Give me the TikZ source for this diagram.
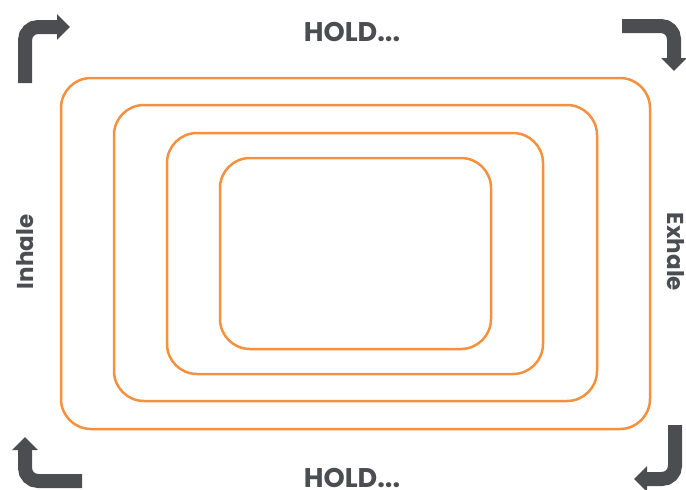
\documentclass[tikz,border=0pt]{standalone}
\usepackage{fontspec}
\setmainfont{Poppins}
\definecolor{breathorange}{RGB}{245, 145, 62}
\definecolor{darkgray}{RGB}{76, 77, 81}
\usetikzlibrary{arrows.meta}
\tikzset{
	ring/.style={draw=breathorange, line width=2.5pt, rounded corners=30pt},
	turn/.style={draw=darkgray, line width=14pt, rounded corners=13pt, -{Triangle[length=13pt, width=25pt]}},
	label/.style={text=darkgray, font=\bfseries\fontsize{27}{30}\selectfont, inner sep=0pt, text depth=0pt, anchor=base},
	sidelabel/.style={text=darkgray, font=\bfseries\fontsize{23}{27}\selectfont, inner sep=0pt},
}
\begin{document}
\begin{tikzpicture}[x=1pt, y=-1pt]
		\useasboundingbox (0,0) rectangle (686,490);
		% nested squares
		\draw[ring] (61,78) rectangle (650,429);
		\draw[ring] (114,105) rectangle (597,401);
		\draw[ring] (167,133) rectangle (543,374);
		\draw[ring] (220,158) rectangle (491,349);
		% labels
		\node[label] (holdtop) at (352,41) {HOLD...};
		\node[label] (holdbot) at (352,487) {HOLD...};
		\node[sidelabel, rotate=90] (inhale) at (25,252) {Inhale};
		\node[sidelabel, rotate=-90] (exhale) at (676,252) {Exhale};
		% corner arrows
		\coordinate (tlstart) at (25,83);
		\coordinate (tlend) at (70,27);
		\coordinate (trstart) at (622,26);
		\coordinate (trend) at (674,71);
		\coordinate (brstart) at (675,425);
		\coordinate (brend) at (634,479);
		\coordinate (blstart) at (82,481);
		\coordinate (blend) at (25,437);
		\draw[turn] (tlstart) |- (tlend);
		\draw[turn] (trstart) -| (trend);
		\draw[turn] (brstart) |- (brend);
		\draw[turn] (blstart) -| (blend);
	\end{tikzpicture}
\end{document}
